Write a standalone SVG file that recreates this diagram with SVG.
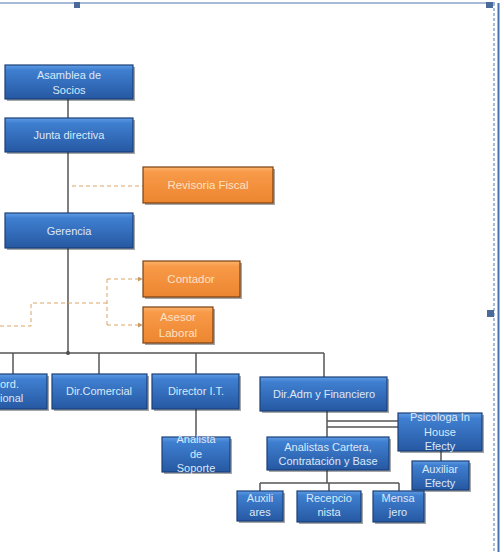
<svg xmlns="http://www.w3.org/2000/svg" width="501" height="552" viewBox="0 0 501 552">
<defs>
<linearGradient id="gb" x1="0" y1="0" x2="0" y2="1">
<stop offset="0" stop-color="#5f9ce4"/>
<stop offset="0.15" stop-color="#3f7fd0"/>
<stop offset="1" stop-color="#2658a2"/>
</linearGradient>
<linearGradient id="go" x1="0" y1="0" x2="0" y2="1">
<stop offset="0" stop-color="#fbb36c"/>
<stop offset="0.15" stop-color="#f89a48"/>
<stop offset="1" stop-color="#ec8530"/>
</linearGradient>
<marker id="ar" viewBox="0 0 6 6" refX="5" refY="3" markerWidth="5" markerHeight="5" orient="auto">
<path d="M0,0 L6,3 L0,6 z" fill="#c99a66"/>
</marker>
<style>
.b{fill:url(#gb);stroke:#1a4078;stroke-width:1.2}
.o{fill:url(#go);stroke:#7a4010;stroke-width:1.2}
.sh{fill:#222;opacity:0.4}
.t{font-family:"Liberation Sans","Open Sans",sans-serif;font-size:11px;fill:#dbe8f8;text-anchor:middle}
.to{font-family:"Liberation Sans","Open Sans",sans-serif;font-size:11.5px;fill:#fde2c4;text-anchor:middle}
.c{stroke:#555;stroke-width:1.5;fill:none}
.d{stroke:#dca468;stroke-width:1;fill:none;stroke-dasharray:4 3}
</style>
</defs>
<g id="frame">
<line x1="0" y1="3" x2="495" y2="3" stroke="#8aa4cc" stroke-width="1.5"/>
<line x1="494" y1="3" x2="494" y2="552" stroke="#8aa6cc" stroke-width="1.5" stroke-dasharray="3 2"/>
<line x1="498.5" y1="3" x2="498.5" y2="552" stroke="#4a72ae" stroke-width="2"/>
<rect x="74" y="2" width="6" height="6" fill="#4a6a9a"/>
<rect x="486" y="2" width="7" height="6" fill="#4a6a9a"/>
<rect x="487" y="310" width="7" height="7" fill="#4a6a9a"/>
</g>
<g id="connectors">
<path class="c" d="M68,99 V118"/>
<path class="c" d="M68,152 V213"/>
<path class="c" d="M68,248 V353"/>
<circle cx="68" cy="353" r="2" fill="#444"/>
<path class="c" d="M0,353 H324"/>
<path class="c" d="M13,353 V374 M99,353 V374 M196,353 V374 M324,353 V377"/>
<path class="c" d="M196,409 V437"/>
<path class="c" d="M327,411 V437"/>
<path class="c" d="M327,421 H398 M327,427 H398"/>
<path class="c" d="M441,451 V461"/>
<path class="c" d="M327,470 V483 M260,483 H399 M260,483 V491 M329,483 V491 M399,483 V491"/>
<path class="d" d="M72,186 H143"/>
<path class="d" d="M0,326 H31 V303 H107"/>
<path class="d" d="M107,279 V325"/>
<path class="d" d="M107,279 H142" marker-end="url(#ar)"/>
<path class="d" d="M107,325 H142" marker-end="url(#ar)"/>
</g>
<g id="asamblea">
<rect class="sh" x="7" y="67" width="128" height="34"/>
<rect class="b" x="5" y="65" width="128" height="34"/>
<text class="t" x="69" y="79">Asamblea de</text>
<text class="t" x="69" y="94">Socios</text>
</g>
<g id="junta">
<rect class="sh" x="7" y="120" width="128" height="34"/>
<rect class="b" x="5" y="118" width="128" height="34"/>
<text class="t" x="69" y="139">Junta directiva</text>
</g>
<g id="revisoria">
<rect class="sh" x="145" y="169" width="130" height="36"/>
<rect class="o" x="143" y="167" width="130" height="36"/>
<text class="to" x="208" y="189">Revisoria Fiscal</text>
</g>
<g id="gerencia">
<rect class="sh" x="7" y="215" width="128" height="35"/>
<rect class="b" x="5" y="213" width="128" height="35"/>
<text class="t" x="69" y="235">Gerencia</text>
</g>
<g id="contador">
<rect class="sh" x="145" y="263" width="97" height="36"/>
<rect class="o" x="143" y="261" width="97" height="36"/>
<text class="to" x="191" y="283">Contador</text>
</g>
<g id="asesor">
<rect class="sh" x="145" y="309" width="70" height="36"/>
<rect class="o" x="143" y="307" width="70" height="36"/>
<text class="to" x="178" y="321">Asesor</text>
<text class="to" x="178" y="337">Laboral</text>
</g>
<g id="coord">
<rect class="sh" x="-40" y="376" width="89" height="35"/>
<rect class="b" x="-42" y="374" width="89" height="35"/>
<text class="t" x="0" y="388" style="text-anchor:start">ord.</text>
<text class="t" x="0" y="402" style="text-anchor:start">ional</text>
</g>
<g id="comercial">
<rect class="sh" x="54" y="376" width="95" height="35"/>
<rect class="b" x="52" y="374" width="95" height="35"/>
<text class="t" x="99" y="395">Dir.Comercial</text>
</g>
<g id="director-it">
<rect class="sh" x="154" y="376" width="87" height="35"/>
<rect class="b" x="152" y="374" width="87" height="35"/>
<text class="t" x="196" y="395">Director I.T.</text>
</g>
<g id="analista-soporte">
<rect class="sh" x="164" y="439" width="68" height="35"/>
<rect class="b" x="162" y="437" width="68" height="35"/>
<text class="t" x="196" y="443">Analista</text>
<text class="t" x="196" y="458">de</text>
<text class="t" x="196" y="472">Soporte</text>
</g>
<g id="dir-adm">
<rect class="sh" x="262" y="379" width="127" height="34"/>
<rect class="b" x="260" y="377" width="127" height="34"/>
<text class="t" x="324" y="398">Dir.Adm y Financiero</text>
</g>
<g id="psicologa">
<rect class="sh" x="400" y="415" width="84" height="38"/>
<rect class="b" x="398" y="413" width="84" height="38"/>
<text class="t" x="440" y="421">Psicologa In</text>
<text class="t" x="440" y="436">House</text>
<text class="t" x="440" y="450">Efecty</text>
</g>
<g id="analistas">
<rect class="sh" x="269" y="439" width="122" height="33"/>
<rect class="b" x="267" y="437" width="122" height="33"/>
<text class="t" x="328" y="451">Analistas Cartera,</text>
<text class="t" x="328" y="465">Contratación y Base</text>
</g>
<g id="auxiliar-efecty">
<rect class="sh" x="414" y="463" width="57" height="29"/>
<rect class="b" x="412" y="461" width="57" height="29"/>
<text class="t" x="440" y="473">Auxiliar</text>
<text class="t" x="440" y="487">Efecty</text>
</g>
<g id="auxiliares">
<rect class="sh" x="239" y="493" width="46" height="30"/>
<rect class="b" x="237" y="491" width="46" height="30"/>
<text class="t" x="260" y="502">Auxili</text>
<text class="t" x="260" y="516">ares</text>
</g>
<g id="recepcionista">
<rect class="sh" x="299" y="493" width="64" height="31"/>
<rect class="b" x="297" y="491" width="64" height="31"/>
<text class="t" x="329" y="502">Recepcio</text>
<text class="t" x="329" y="516">nista</text>
</g>
<g id="mensajero">
<rect class="sh" x="375" y="493" width="51" height="31"/>
<rect class="b" x="373" y="491" width="51" height="31"/>
<text class="t" x="398" y="502">Mensa</text>
<text class="t" x="398" y="516">jero</text>
</g>
</svg>
